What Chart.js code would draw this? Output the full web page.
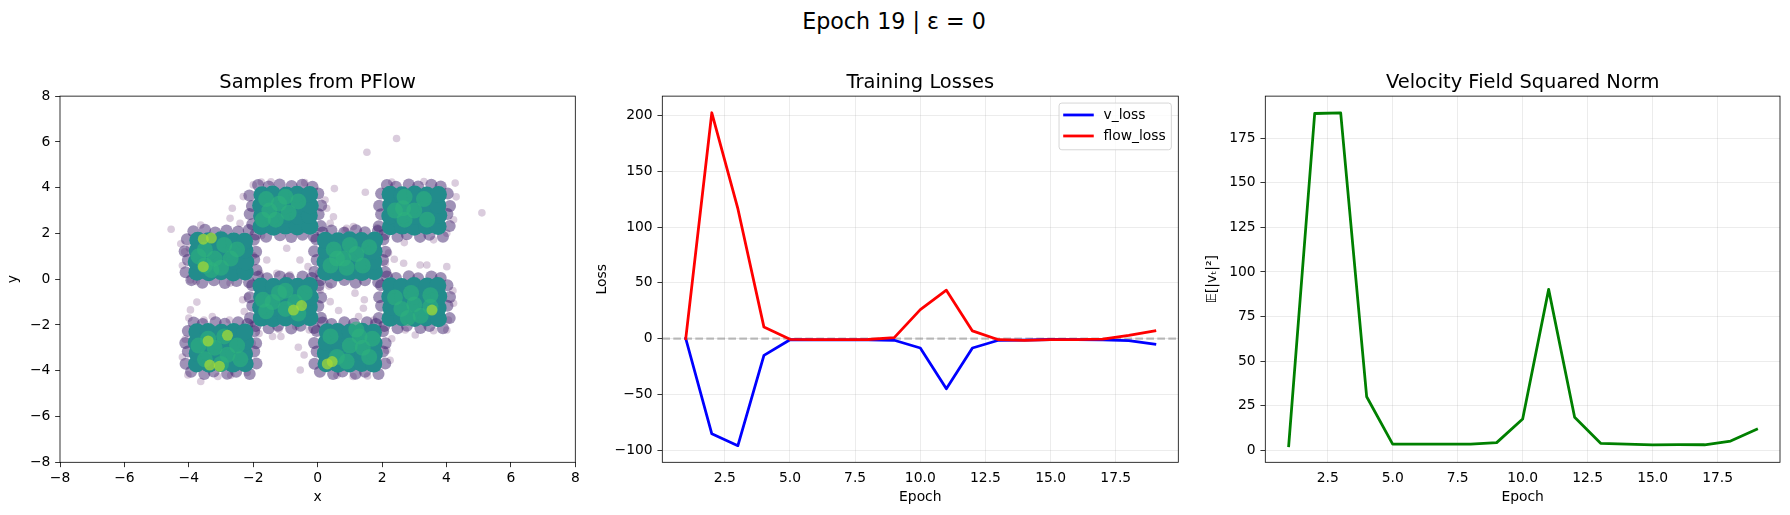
<!DOCTYPE html>
<html>
<head>
<meta charset="utf-8">
<title>Epoch 19 | ε = 0</title>
<script src="https://cdn.jsdelivr.net/npm/chart.js@4.4.1/dist/chart.umd.min.js"></script>
<style>
  html, body { margin: 0; padding: 0; background: #fff; }
  #fig { position: relative; width: 1790px; height: 515px; overflow: hidden; background: #fff; }
  #fig canvas { position: absolute; top: 0; }
  #suptitle { position: absolute; left: 0; top: 7.7px; width: 1788px; text-align: center;
              font-family: "DejaVu Sans"; font-size: 22.2px; color: #000; white-space: pre; }
</style>
</head>
<body>
<div id="fig">
  <div id="suptitle">Epoch 19 | ε = 0</div>
  <canvas id="samples" width="620" height="515" style="left:0px"></canvas>
  <canvas id="losses" width="620" height="515" style="left:580px"></canvas>
  <canvas id="vnorm" width="600" height="515" style="left:1190px"></canvas>
</div>
<script>
// --- 学習履歴 ---
const epochs = [1, 2, 3, 4, 5, 6, 7, 8, 9, 10, 11, 12, 13, 14, 15, 16, 17, 18, 19];
const vLoss = [0, -85.4, -96, -15, -1, -1.2, -1.2, -1.2, -1.5, -8.4, -45, -8.4, -1.5, -1.3, -0.8, -1.0, -1.2, -1.8, -5.0];
const flowLoss = [0, 202.5, 116.5, 10.3, -0.6, -1.0, -1.0, -0.8, 0.9, 26, 43.4, 6.9, -1.0, -1.5, -1.0, -1.0, -0.5, 2.8, 6.9];
const velocityNorm = [2.6, 188.8, 189.2, 30, 3.5, 3.5, 3.4, 3.5, 4.3, 17.5, 90.2, 18.5, 3.9, 3.5, 3.0, 3.2, 3.1, 5.2, 11.8];
const lossBaseline = 0;

// --- 目盛り ---
const sampleTicks = [-8, -6, -4, -2, 0, 2, 4, 6, 8];
const epochTicks = [2.5, 5, 7.5, 10, 12.5, 15, 17.5];
const lossTicks = [-100, -50, 0, 50, 100, 150, 200];
const normTicks = [0, 25, 50, 75, 100, 125, 150, 175];

// --- PFlow サンプル (密度ごと) ---
const samplesSparse = [
  [-4.55,2.18],[-3.63,2.37],[1.53,5.55],[2.45,6.15],[5.1,2.9],[0.52,3.96],[1.48,3.8],[4.27,4.2],[4.3,3.6],
  [-3.75,-1.0],[-3.95,-1.34],[-4.0,-1.7],[-4.11,-2.62],[-4.03,-4.18],[-3.63,-4.47],[-2.19,-4.08],
  [-0.6,-2.97],[-0.42,-3.31],[-0.54,-3.97],[1.55,-4.23],[0.65,-1.37],[0.39,-0.98],[1.16,-0.61],
  [1.45,-0.9],[1.42,-1.27],[1.27,-1.63],[3.03,-2.44],[2.72,-2.22],[4.01,-2.22],[4.22,-1.05],[4.06,-1.78],
  [4.01,0.55],[3.39,0.62],[3.18,0.62],[2.67,0.7],[2.38,0.87],[2.69,1.6],[4.01,2.01],[3.6,1.72],
  [1.11,2.3],[0.85,2.15],[0.39,2.44],[0.49,2.73],[0.23,3.46],[0.28,3.1],[-2.65,3.1],[-2.72,2.66],
  [-2.41,2.44],[-2.0,4.12],[-2.31,3.61],[-1.45,4.26],[-3.98,1.35],[-4.13,1.2],[-3.95,-0.03],[-3.77,-0.1],
  [-2.72,-0.17],[-1.79,0.26],[-1.58,0.84],[-0.96,1.35],[-0.55,0.84],[-1.27,0.26],[-0.86,0.19],
  [-1.74,1.91],[-2.0,1.03],[0.08,-0.47],[0.03,0.26],[2.1,0.7],[2.2,1.14],[1.74,-1.78],[1.53,-2.37],
  [2.15,-3.1],[2.25,-3.54],[-0.26,-2.22],[-0.68,-2.07],[-1.4,-2.5],[-1.14,-2.5],[-1.82,-2.37],
  [-2.03,-1.93],[-2.03,-2.8],[-2.13,-3.24],[-2.74,-1.78],[-3.27,-1.63],[-3.53,-1.78],[-2.28,-1.41],
  [-2.18,-0.76],[-2.33,-0.9],[-0.3,0.55],[0.35,-0.3],[1.85,2.25],[-0.2,-1.85],[2.3,-2.6],[-2.4,-2.15],
  [-4.2,0.6],[-4.25,1.55],[-1.75,4.25],[-0.4,4.22],[2.3,4.25],[3.3,4.27],[4.22,2.6],[4.2,-0.5],
  [0.6,-4.2],[1.1,-4.25],[-3.1,-4.25],[-2.7,-4.2],[-4.2,-3.4],[3.6,-2.25],[-1.2,-2.2],[0.9,2.22]
];
const samplesEdge = [
  [-3.92,-0.04],[-3.58,-0.15],[-3.22,-0.05],[-2.88,-0.17],[-2.52,-0.08],[-2.13,-0.13],
  [-3.86,2.1],[-3.5,2.16],[-3.18,2.04],[-2.83,2.13],[-2.47,2.08],[-2.14,2.15],
  [-4.1,0.3],[-4.03,0.84],[-4.13,1.22],[-4.06,1.75],[-1.9,0.4],[-1.97,0.86],[-1.91,1.2],[-1.98,1.72],
  [-1.93,1.95],[-1.6,1.86],[-1.17,1.92],[-0.82,1.84],[-0.47,1.94],[-0.12,1.87],
  [-1.85,4.12],[-1.52,4.05],[-1.18,4.14],[-0.81,4.07],[-0.48,4.13],[-0.16,4.04],
  [-2.03,2.4],[-2.11,2.85],[-2.04,3.2],[-2.12,3.66],[0.1,2.32],[0.03,2.84],[0.11,3.22],[0.02,3.75],
  [0.08,-0.05],[0.42,-0.14],[0.83,-0.03],[1.18,-0.15],[1.47,-0.05],[1.88,-0.13],
  [0.15,2.04],[0.43,2.13],[0.82,2.03],[1.19,2.14],[1.47,2.05],[1.87,2.11],
  [-0.1,0.33],[-0.03,0.84],[-0.11,1.22],[-0.04,1.74],[2.1,0.31],[2.03,0.84],[2.11,1.2],[2.04,1.73],
  [2.07,1.95],[2.48,1.86],[2.77,1.96],[3.18,1.85],[3.47,1.94],[3.89,1.86],
  [2.15,4.12],[2.43,4.04],[2.83,4.14],[3.12,4.05],[3.53,4.13],[3.82,4.05],
  [1.9,2.31],[1.97,2.84],[1.91,3.21],[1.97,3.74],[4.1,2.32],[4.03,2.85],[4.11,3.2],[4.04,3.74],
  [-1.93,-2.04],[-1.52,-2.14],[-1.23,-2.03],[-0.82,-2.15],[-0.53,-2.03],[-0.11,-2.13],
  [-1.85,0.11],[-1.57,0.04],[-1.17,0.12],[-0.89,0.04],[-0.47,0.12],[-0.18,0.05],
  [-2.1,-1.69],[-2.03,-1.16],[-2.11,-0.79],[-2.03,-0.26],[0.1,-1.68],[0.02,-1.17],[0.11,-0.8],[0.03,-0.27],
  [2.07,-2.04],[2.48,-2.14],[2.77,-2.03],[3.19,-2.13],[3.47,-2.04],[3.89,-2.14],
  [2.15,0.12],[2.43,0.05],[2.83,0.13],[3.12,0.04],[3.53,0.12],[3.82,0.05],
  [1.9,-1.69],[1.97,-1.16],[1.91,-0.79],[1.97,-0.26],[4.1,-1.7],[4.03,-1.16],[4.11,-0.78],[4.03,-0.26],
  [-3.93,-4.04],[-3.52,-4.14],[-3.23,-4.03],[-2.81,-4.13],[-2.53,-4.04],[-2.11,-4.14],
  [-3.85,-1.89],[-3.57,-1.96],[-3.17,-1.88],[-2.88,-1.95],[-2.47,-1.88],[-2.18,-1.96],
  [-4.1,-3.69],[-4.03,-3.16],[-4.11,-2.79],[-4.03,-2.26],[-1.9,-3.68],[-1.97,-3.16],[-1.91,-2.8],[-1.97,-2.27],
  [0.07,-4.04],[0.48,-4.14],[0.77,-4.03],[1.18,-4.13],[1.47,-4.04],[1.89,-4.14],
  [0.15,-1.89],[0.43,-1.96],[0.83,-1.88],[1.13,-1.95],[1.53,-1.88],[1.81,-1.96],
  [-0.1,-3.69],[-0.03,-3.16],[-0.11,-2.79],[-0.03,-2.26],[2.1,-3.68],[2.03,-3.16],[2.11,-2.8],[2.03,-2.27]
];
const samplesBody = [
  [-3.75,0.3],[-3.38,0.28],[-3.0,0.33],[-2.62,0.27],[-2.25,0.32],
  [-3.77,0.76],[-3.4,0.8],[-2.98,0.74],[-2.6,0.79],[-2.23,0.75],
  [-3.74,1.24],[-3.36,1.2],[-3.02,1.26],[-2.63,1.22],[-2.26,1.27],
  [-3.72,1.7],[-3.39,1.68],[-3.0,1.72],[-2.61,1.67],[-2.27,1.66],
  [-1.76,2.3],[-1.37,2.27],[-1.0,2.32],[-0.63,2.28],[-0.24,2.31],
  [-1.74,2.77],[-1.39,2.75],[-0.98,2.79],[-0.6,2.74],[-0.26,2.78],
  [-1.77,3.22],[-1.36,3.25],[-1.01,3.2],[-0.62,3.24],[-0.23,3.21],
  [-1.73,3.69],[-1.4,3.72],[-0.97,3.68],[-0.64,3.71],[-0.25,3.7],
  [0.25,0.3],[0.62,0.27],[1.0,0.31],[1.38,0.29],[1.76,0.33],
  [0.23,0.77],[0.64,0.74],[0.98,0.79],[1.37,0.76],[1.74,0.78],
  [0.26,1.23],[0.6,1.25],[1.02,1.21],[1.4,1.24],[1.75,1.22],
  [0.24,1.7],[0.63,1.68],[0.99,1.72],[1.36,1.69],[1.77,1.71],
  [2.26,2.29],[2.63,2.32],[3.0,2.27],[3.38,2.31],[3.74,2.3],
  [2.24,2.76],[2.61,2.78],[3.02,2.75],[3.4,2.77],[3.76,2.79],
  [2.27,3.24],[2.64,3.21],[2.99,3.23],[3.37,3.26],[3.73,3.22],
  [2.25,3.71],[2.62,3.69],[3.01,3.72],[3.39,3.68],[3.75,3.7],
  [-1.75,-1.7],[-1.38,-1.73],[-1.0,-1.69],[-0.61,-1.72],[-0.24,-1.68],
  [-1.77,-1.23],[-1.36,-1.26],[-0.99,-1.22],[-0.63,-1.25],[-0.26,-1.21],
  [-1.74,-0.77],[-1.4,-0.74],[-1.02,-0.78],[-0.6,-0.75],[-0.23,-0.79],
  [-1.76,-0.3],[-1.37,-0.32],[-0.98,-0.28],[-0.62,-0.31],[-0.25,-0.27],
  [2.25,-1.71],[2.62,-1.68],[3.01,-1.72],[3.37,-1.69],[3.75,-1.73],
  [2.27,-1.24],[2.6,-1.21],[2.98,-1.25],[3.39,-1.23],[3.74,-1.26],
  [2.24,-0.76],[2.64,-0.79],[3.02,-0.74],[3.36,-0.77],[3.76,-0.75],
  [2.26,-0.29],[2.61,-0.32],[2.99,-0.27],[3.4,-0.3],[3.73,-0.28],
  [-3.76,-3.7],[-3.37,-3.72],[-3.01,-3.68],[-2.63,-3.71],[-2.25,-3.69],
  [-3.74,-3.24],[-3.39,-3.21],[-2.98,-3.25],[-2.6,-3.22],[-2.27,-3.26],
  [-3.77,-2.77],[-3.36,-2.79],[-3.02,-2.75],[-2.64,-2.78],[-2.24,-2.74],
  [-3.75,-2.3],[-3.4,-2.28],[-2.99,-2.32],[-2.61,-2.29],[-2.26,-2.31],
  [0.26,-3.69],[0.63,-3.72],[0.99,-3.7],[1.37,-3.68],[1.74,-3.71],
  [0.24,-3.23],[0.6,-3.26],[1.02,-3.22],[1.4,-3.24],[1.76,-3.25],
  [0.27,-2.76],[0.64,-2.78],[0.98,-2.74],[1.36,-2.77],[1.75,-2.79],
  [0.3,-2.3],[0.62,-2.28],[1.01,-2.31],[1.38,-2.27],[1.73,-2.32]
];
const samplesDense = [
  [-3.5,0.6],[-3.2,0.9],[-3.5,1.3],[-2.9,1.5],[-3.3,0.4],[-2.7,0.9],[-3.0,0.5],[-2.5,1.3],[-3.7,1.0],
  [-1.5,3.0],[-1.2,3.3],[-1.6,3.5],[-0.9,2.9],[-1.3,2.6],[-0.6,3.4],[-1.0,3.6],[-1.7,2.6],
  [0.8,0.9],[1.2,1.1],[0.5,1.3],[1.4,0.6],[0.9,0.5],[0.4,0.6],[1.6,1.4],[1.0,1.5],[0.6,0.9],
  [2.7,2.6],[2.65,3.1],[2.7,3.6],[3.0,3.0],[3.3,3.5],[3.4,2.6],[2.4,3.0],
  [-1.4,-1.0],[-1.0,-1.3],[-0.7,-1.0],[-1.2,-0.6],[-0.6,-1.5],[-1.6,-1.4],[-1.0,-0.5],[-0.4,-0.6],[-1.7,-0.9],
  [2.6,-1.3],[3.0,-1.1],[3.5,-1.2],[3.5,-0.7],[2.9,-0.6],[2.4,-0.8],[3.2,-1.6],[2.8,-1.7],
  [-3.4,-2.6],[-2.9,-2.5],[-3.2,-3.0],[-2.8,-3.3],[-3.5,-3.5],[-2.5,-2.9],[-3.0,-3.7],[-2.4,-3.5],[-3.7,-2.9],
  [1.3,-2.5],[1.0,-2.9],[1.4,-3.0],[0.6,-3.4],[1.6,-3.4],[0.4,-2.5],[1.7,-2.6],[0.9,-3.6],[1.2,-2.2]
];
const samplesPeak = [
  [-3.55,1.75],[-3.3,1.8],[-3.55,0.55],
  [-0.75,-1.35],[-0.5,-1.15],
  [3.55,-1.35],
  [-3.35,-3.75],[-3.05,-3.8],[-2.8,-2.45],[-3.4,-2.7],
  [0.3,-3.7],[0.45,-3.6]
];

const FONT = 'DejaVu Sans';
const tickFont = { family: FONT, size: 13.89 };
const titleFont = { family: FONT, size: 19.44, weight: 'normal' };
const AXIS_BOTTOM = 462.3;
const FIG_H = 515;

// matplotlib 風のマイナス記号
function fmtInt(v) { return String(v).replace('-', '\u2212'); }
function fmtOne(v) { return v.toFixed(1); }

// データ範囲 + 5% マージン
function padded(values) {
  const lo = Math.min(...values), hi = Math.max(...values);
  const m = (hi - lo) * 0.05;
  return { min: lo - m, max: hi + m };
}

// 外枠 (spines)
const frame = {
  id: 'frame',
  afterDatasetsDraw(chart) {
    const { ctx, chartArea: a } = chart;
    ctx.save();
    ctx.strokeStyle = '#000';
    ctx.lineWidth = 0.8;
    ctx.strokeRect(a.left, a.top, a.right - a.left, a.bottom - a.top);
    ctx.restore();
  }
};

// y = 0 の破線
const zeroLine = {
  id: 'zeroLine',
  beforeDatasetsDraw(chart) {
    const { ctx, chartArea: a, scales } = chart;
    const py = scales.y.getPixelForValue(lossBaseline);
    ctx.save();
    ctx.beginPath();
    ctx.rect(a.left, a.top, a.right - a.left, a.bottom - a.top);
    ctx.clip();
    ctx.setLineDash([7.7, 3.3]);
    ctx.strokeStyle = 'rgba(128,128,128,0.5)';
    ctx.lineWidth = 2.08;
    ctx.beginPath();
    ctx.moveTo(a.left, py);
    ctx.lineTo(a.right, py);
    ctx.stroke();
    ctx.restore();
  }
};

// 右上の凡例
const insetLegend = {
  id: 'insetLegend',
  afterDatasetsDraw(chart) {
    const { ctx, chartArea: a } = chart;
    const fs = 13.89;
    const sets = chart.data.datasets;
    ctx.save();
    ctx.font = fs + 'px "' + FONT + '"';
    const textW = Math.max(...sets.map(d => ctx.measureText(d.label).width));
    const w = fs * 3.6 + textW;
    const h = 46.7;
    const x0 = a.right - fs * 0.5 - w;
    const y0 = a.top + fs * 0.5;
    ctx.beginPath();
    ctx.roundRect(x0, y0, w, h, 2.8);
    ctx.fillStyle = 'rgba(255,255,255,0.8)';
    ctx.fill();
    ctx.strokeStyle = 'rgba(204,204,204,0.8)';
    ctx.lineWidth = 1;
    ctx.stroke();
    sets.forEach((d, i) => {
      const cy = y0 + 11.9 + i * 21;
      ctx.strokeStyle = d.borderColor;
      ctx.lineWidth = d.borderWidth;
      ctx.lineCap = 'square';
      ctx.beginPath();
      ctx.moveTo(x0 + fs * 0.4, cy);
      ctx.lineTo(x0 + fs * 2.4, cy);
      ctx.stroke();
      ctx.fillStyle = '#000';
      ctx.textAlign = 'left';
      ctx.textBaseline = 'middle';
      ctx.fillText(d.label, x0 + fs * 3.2, cy);
    });
    ctx.restore();
  }
};

function xAxis(range, ticks, fmt, label, showGrid, tickColor) {
  return {
    type: 'linear', min: range.min, max: range.max,
    afterBuildTicks: s => { s.ticks = ticks.map(v => ({ value: v })); },
    afterFit: s => { s.height = FIG_H - AXIS_BOTTOM; },
    border: { display: false },
    grid: { drawOnChartArea: showGrid, color: 'rgba(176,176,176,0.3)', lineWidth: 0.8,
            tickLength: 4.86, tickColor: tickColor, tickWidth: 0.8 },
    ticks: { color: '#000', font: tickFont, padding: 2.6, maxRotation: 0, autoSkip: false, callback: fmt },
    title: { display: true, text: label, color: '#000', font: tickFont, padding: { top: 0, bottom: 9.67 } }
  };
}

function yAxis(range, ticks, fmt, label, showGrid, width, titlePad) {
  return {
    type: 'linear', min: range.min, max: range.max,
    afterBuildTicks: s => { s.ticks = ticks.map(v => ({ value: v })); },
    afterFit: s => { s.width = width; },
    border: { display: false },
    grid: { drawOnChartArea: showGrid, color: 'rgba(176,176,176,0.3)', lineWidth: 0.8,
            tickLength: 4.86, tickColor: '#000', tickWidth: 0.8 },
    ticks: { color: '#000', font: tickFont, padding: 4.8, autoSkip: false, callback: fmt },
    title: { display: true, text: label, color: '#000', font: tickFont, padding: { top: titlePad, bottom: 0 } }
  };
}

function baseOptions(title, padRight) {
  return {
    responsive: false,
    animation: false,
    events: [],
    layout: { padding: { top: 0, left: 0, right: padRight, bottom: 0 } },
    plugins: {
      legend: { display: false },
      tooltip: { enabled: false },
      title: { display: true, text: title, color: '#000', font: titleFont, fullSize: false,
               padding: { top: 70.9, bottom: 1.9 } }
    }
  };
}

function scatterSet(points, color, radius, order) {
  return {
    data: points, order: order, showLine: false,
    pointRadius: radius, pointBorderWidth: 0,
    pointBackgroundColor: color, backgroundColor: color, borderColor: color
  };
}

function lineSet(label, values, color, order) {
  return {
    label: label, order: order,
    data: epochs.map((e, i) => ({ x: e, y: values[i] })),
    borderColor: color, backgroundColor: color, borderWidth: 2.78,
    pointRadius: 0, tension: 0, fill: false,
    borderJoinStyle: 'round', borderCapStyle: 'square'
  };
}

// 1) サンプル散布図
const sampleOpts = baseOptions('Samples from PFlow', 620 - 575.3);
sampleOpts.scales = {
  x: xAxis({ min: -8, max: 8 }, sampleTicks, fmtInt, 'x', false, '#000'),
  y: yAxis({ min: -8, max: 8 }, sampleTicks, fmtInt, 'y', false, 60, 5.56)
};
new Chart(document.getElementById('samples'), {
  type: 'scatter',
  data: {
    datasets: [
      scatterSet(samplesSparse, 'rgba(68,1,84,0.2)', 3.8, 5),
      scatterSet(samplesEdge, 'rgba(66,38,112,0.5)', 6, 4),
      scatterSet(samplesBody, 'rgb(34,140,140)', 8.5, 3),
      scatterSet(samplesDense, 'rgba(45,178,125,0.6)', 8, 2),
      scatterSet(samplesPeak, 'rgba(170,220,50,0.7)', 5.5, 1)
    ]
  },
  options: sampleOpts,
  plugins: [frame]
});

// 2) 学習損失
const lossOpts = baseOptions('Training Losses', 620 - 598.3);
lossOpts.scales = {
  x: xAxis(padded(epochs), epochTicks, fmtOne, 'Epoch', true, 'rgba(0,0,0,0)'),
  y: yAxis(padded(vLoss.concat(flowLoss)), lossTicks, fmtInt, 'Loss', true, 82.3, 13.9)
};
new Chart(document.getElementById('losses'), {
  type: 'line',
  data: {
    datasets: [
      lineSet('v_loss', vLoss, '#0000ff', 1),
      lineSet('flow_loss', flowLoss, '#ff0000', 0)
    ]
  },
  options: lossOpts,
  plugins: [zeroLine, frame, insetLegend]
});

// 3) 速度場ノルム
const normOpts = baseOptions('Velocity Field Squared Norm', 10);
normOpts.scales = {
  x: xAxis(padded(epochs), epochTicks, fmtOne, 'Epoch', true, 'rgba(0,0,0,0)'),
  y: yAxis(padded(velocityNorm), normTicks, fmtInt, '𝔼[|vₜ|²]', true, 75.3, 13.7)
};
new Chart(document.getElementById('vnorm'), {
  type: 'line',
  data: { datasets: [lineSet('velocity', velocityNorm, '#008000', 0)] },
  options: normOpts,
  plugins: [frame]
});
</script>
</body>
</html>
